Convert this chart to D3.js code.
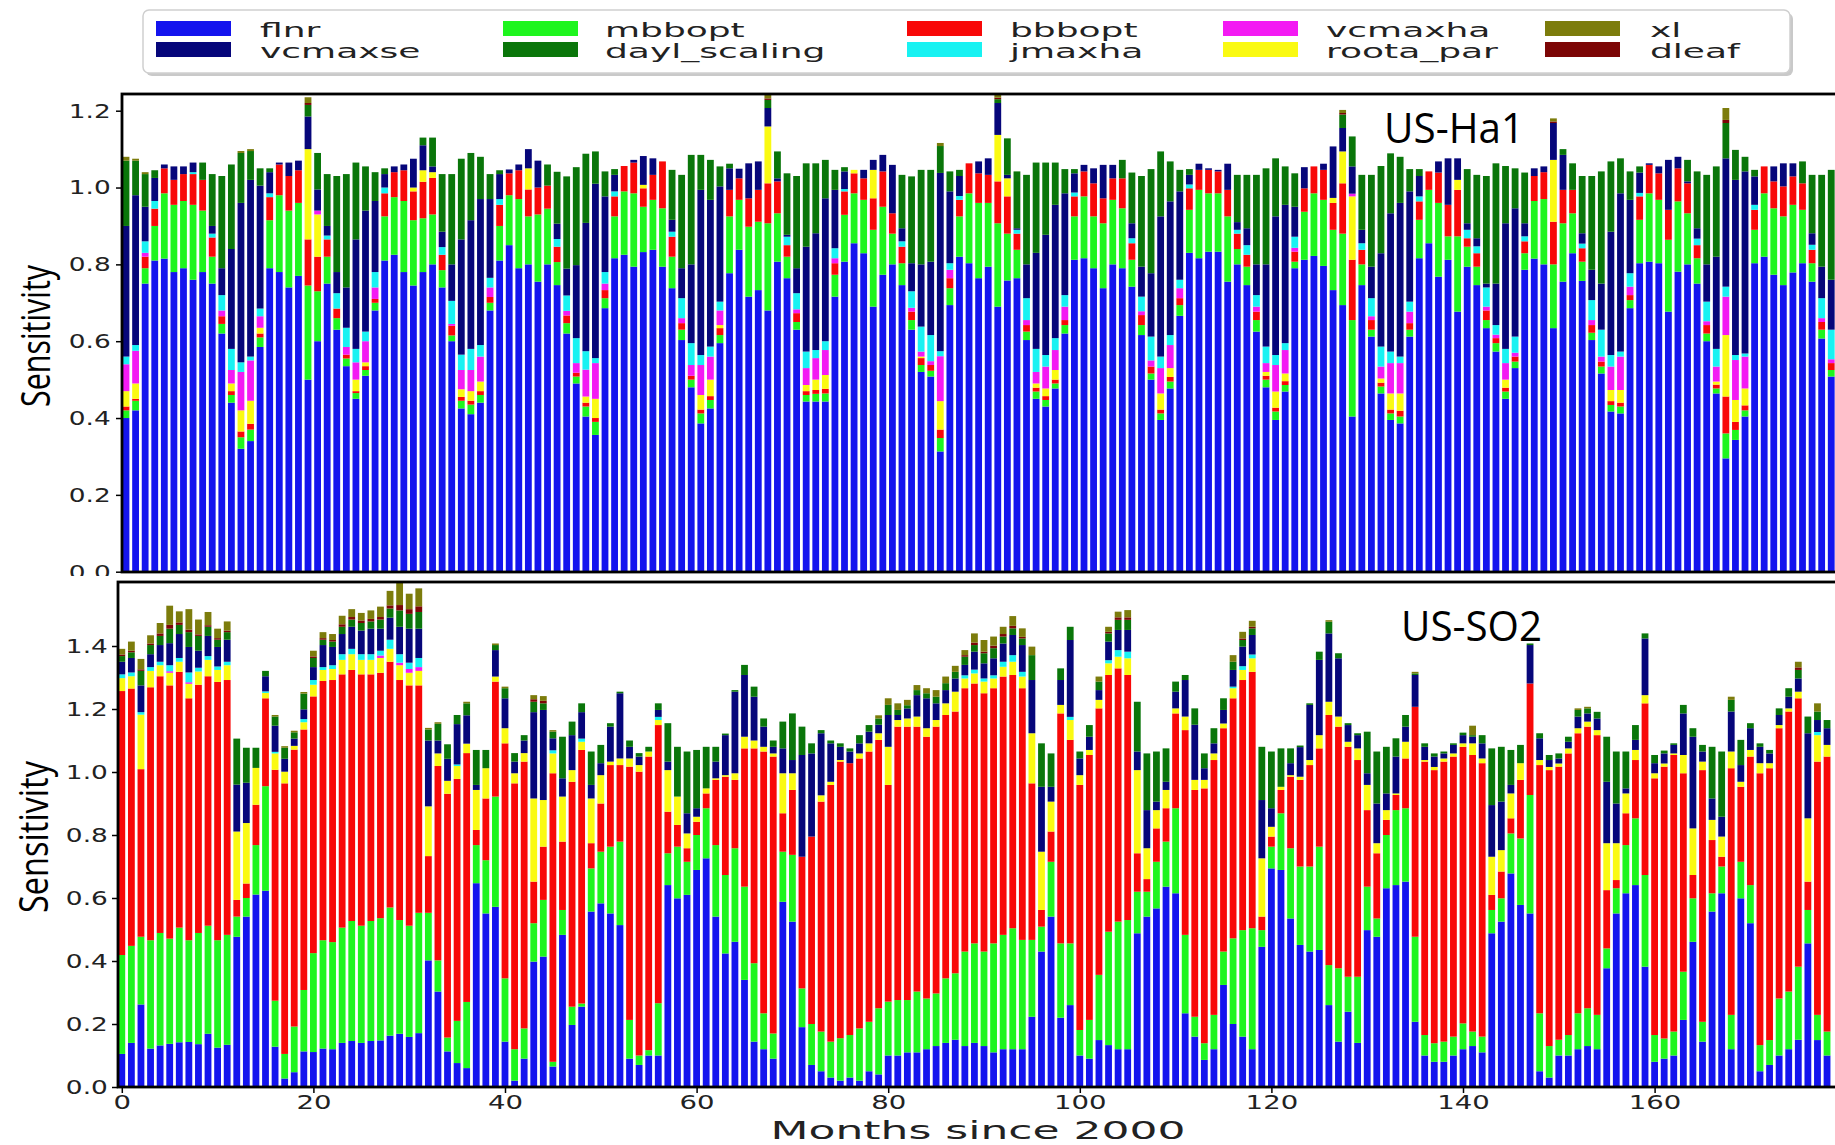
<!DOCTYPE html>
<html>
<head>
<meta charset="utf-8">
<script src="https://cdnjs.cloudflare.com/ajax/libs/d3/7.8.5/d3.min.js"></script>
<style>
  body { margin: 0; background: #fff; }
  svg { display: block; }
</style>
</head>
<body>
<svg id="chart" width="1835" height="1145"></svg>
<script>
// ---- US-Ha1 (top panel), one value per month ----
var top_flnr = [
.40,.42,.75,.81,.815,.78,.79,.76,.78,.75,
.62,.44,.32,.34,.585,.79,.78,.74,.77,.50,
.60,.75,.63,.535,.45,.51,.68,.81,.825,.78,
.745,.78,.80,.74,.60,.425,.41,.44,.68,.81,
.85,.79,.80,.755,.80,.746,.62,.49,.404,.356,
.686,.816,.825,.794,.832,.838,.794,.738,.603,.48,
.386,.425,.595,.777,.838,.716,.733,.68,.807,.764,
.63,.443,.443,.443,.716,.807,.855,.829,.69,.773,
.80,.746,.63,.52,.508,.313,.694,.82,.803,.764,
.794,.69,.758,.764,.603,.45,.43,.477,.62,.812,
.816,.79,.738,.80,.79,.742,.616,.50,.395,.477,
.666,.83,.816,.833,.833,.755,.80,.746,.625,.48,
.395,.469,.79,.812,.822,.796,.733,.694,.404,.746,
.612,.464,.395,.386,.612,.816,.855,.768,.812,.677,
.794,.746,.634,.573,.45,.53,.786,.815,.80,.634,
.755,.829,.757,.603,.516,.417,.412,.686,.803,.807,
.803,.677,.781,.80,.75,.60,.464,.295,.343,.404,
.803,.82,.773,.746,.779,.803,.755,.607,.508];

var top_mbbopt = [
.02,.025,.04,.09,.17,.175,.175,.195,.16,.07,
.025,.02,.03,.03,.025,.125,.20,.20,.19,.245,
.13,.07,.03,.02,.015,.015,.02,.115,.15,.185,
.17,.14,.13,.045,.015,.02,.025,.02,.02,.09,
.13,.18,.125,.175,.145,.06,.027,.018,.026,.034,
.026,.109,.165,.191,.118,.13,.152,.082,.027,.02,
.026,.022,.021,.148,.13,.182,.178,.227,.126,.056,
.02,.017,.02,.021,.057,.122,.13,.139,.20,.177,
.08,.057,.025,.018,.015,.035,.044,.105,.182,.196,
.166,.217,.122,.074,.022,.019,.017,.013,.022,.113,
.161,.135,.169,.168,.156,.07,.026,.016,.017,.018,
.028,.112,.178,.152,.152,.17,.04,.048,.03,.02,
.022,.017,.017,.125,.163,.172,.157,.186,.251,.054,
.018,.018,.017,.018,.018,.10,.139,.192,.061,.196,
.052,.048,.021,.022,.019,.017,.043,.15,.17,.166,
.152,.104,.05,.019,.018,.017,.018,.021,.113,.178,
.165,.187,.183,.133,.066,.02,.013,.065,.026,.016,
.087,.165,.173,.179,.176,.139,.048,.023,.017];

var top_bbbopt = [
.01,.005,.03,.045,.065,.065,.07,.08,.08,.05,
.02,.01,.015,.015,.01,.06,.08,.09,.085,.12,
.09,.045,.025,.01,.005,.01,.01,.06,.065,.08,
.075,.095,.095,.04,.025,.01,.01,.01,.015,.055,
.057,.075,.07,.07,.06,.04,.02,.01,.01,.01,
.021,.052,.066,.08,.048,.065,.122,.052,.017,.01,
.01,.01,.018,.069,.056,.074,.083,.104,.083,.03,
.023,.01,.01,.012,.03,.061,.052,.056,.082,.092,
.053,.043,.022,.018,.015,.022,.026,.043,.078,.077,
.073,.109,.097,.042,.017,.01,.01,.01,.013,.052,
.065,.086,.065,.056,.078,.043,.026,.018,.01,.012,
.018,.056,.052,.061,.057,.069,.04,.031,.022,.01,
.01,.01,.026,.061,.07,.078,.07,.131,.157,.038,
.025,.01,.01,.015,.017,.048,.048,.079,.082,.121,
.022,.035,.025,.013,.01,.013,.031,.065,.07,.111,
.087,.061,.035,.02,.013,.01,.01,.013,.061,.074,
.069,.078,.086,.078,.034,.022,.01,.096,.021,.013,
.052,.07,.07,.078,.074,.069,.035,.02,.018];

var top_roota_par = [
.04,.04,0,0,0,0,0,0,0,0,
0,.02,.055,.06,.015,0,0,0,0,.235,
.11,0,0,0,.03,.01,0,0,0,0,
.01,.03,.015,0,0,.02,.025,.025,0,0,
0,0,.055,0,0,0,0,0,.016,.05,
0,0,0,0,.009,0,0,0,0,0,
.038,.043,.008,0,0,0,0,.148,0,0,
0,.016,.027,.036,0,0,.009,0,.074,0,
0,0,0,.004,0,.074,0,0,0,0,
0,.121,.047,0,0,.011,.02,.025,0,0,
0,0,0,0,0,0,0,0,.042,.023,
0,0,0,0,0,0,0,0,0,.01,
.042,.02,0,0,0,0,.013,.083,.165,0,
0,.011,.042,.045,0,0,0,0,0,.026,
0,0,0,0,.021,0,0,0,0,.161,
0,0,0,0,0,.029,.033,0,0,0,
0,0,0,0,0,0,.008,.16,.057,.044,
0,0,0,0,0,0,0,0,0];

var top_vcmaxha = [
.07,.085,.01,0,0,0,0,0,0,0,
.015,.035,.10,.105,.03,0,0,0,0,0,
.01,0,0,.02,.045,.055,.03,0,0,0,
0,0,0,0,.005,.05,.055,.065,.025,0,
0,0,0,0,0,0,.012,.025,.07,.093,
.017,0,0,0,0,0,0,0,.013,.028,
.078,.06,.038,0,0,0,0,0,0,0,
.01,.044,.056,.065,.013,0,0,0,0,0,
0,0,.01,.013,.01,.117,.022,0,0,0,
0,0,0,0,.013,.03,.057,.052,.035,0,
0,0,0,0,0,0,.01,.016,.066,.06,
.026,0,0,0,0,0,0,0,.013,.023,
.069,.061,.01,0,0,0,0,0,.007,0,
.01,.031,.079,.079,.03,0,0,0,0,0,
0,0,.01,.009,.043,.01,0,0,0,0,
0,0,0,.013,.013,.061,.087,.022,0,0,
0,0,0,0,0,.01,.039,.10,.104,.083,
0,0,0,0,0,0,0,.01,.01];

var top_jmaxha = [
.02,.015,.03,.02,0,0,0,.005,0,.01,
.04,.055,.025,.01,.02,.01,0,0,0,0,
0,.01,.04,.05,.035,.025,.04,.015,0,0,
0,0,0,.02,.06,.04,.055,.03,.025,.015,
0,0,0,0,0,.02,.04,.065,.048,.013,
.03,.013,0,0,0,0,0,.013,.052,.057,
.026,.026,.023,0,0,0,0,0,0,.022,
.042,.043,.021,.023,.026,.006,0,0,0,0,
0,.014,.043,.065,.068,.013,.017,.01,0,0,
0,0,0,.01,.057,.06,.03,.031,.03,.01,
0,0,0,0,0,.013,.038,.062,.03,.026,
.022,.01,0,0,0,0,.01,.025,.03,.043,
.026,.018,.029,0,0,0,0,0,0,.017,
.047,.052,.03,.017,.026,.013,0,0,0,0,
.022,.018,.05,.025,.037,.042,.013,0,0,0,
0,0,.012,.052,.07,.03,.013,.035,.009,0,
0,0,0,0,.017,.051,.046,.026,.013,.008,
.013,0,0,0,0,0,.013,.052,.077];

var top_vcmaxse = [
.34,.39,.09,.06,.01,.035,.02,.025,0,.02,
.07,.26,.415,.46,.32,.055,.005,.035,.025,.085,
.055,.025,.055,.105,.285,.315,.185,.035,.015,.015,
.075,.065,.015,.04,.095,.30,.335,.38,.205,.065,
.01,.015,.05,.07,0,.04,.07,.19,.334,.454,
.197,.043,0,.007,.075,.043,0,.031,.078,.205,
.43,.382,.30,.056,.025,.091,.074,.048,.008,.005,
.065,.273,.304,.372,.152,.046,0,.022,.026,.043,
.126,.034,.073,.162,.191,.464,.187,.052,0,.031,
.043,.083,.009,.004,.088,.25,.313,.347,.265,.05,
.017,.039,.087,.035,0,.039,.078,.165,.365,.348,
.23,.025,.016,.004,.004,.068,.02,.044,.08,.214,
.361,.36,.078,.055,0,.016,.134,.061,.071,.035,
.082,.243,.36,.40,.287,.053,0,.029,.121,.056,
.017,.021,.01,.108,.327,.334,.034,.02,.015,.096,
.091,0,.027,.079,.12,.321,.412,.191,.053,.004,
.018,.13,.03,.005,.027,.097,.24,.334,.456,.474,
.074,0,.039,.06,.034,0,.03,.082,.13];

var top_dayl_scaling = [
.17,.09,.085,.02,0,0,0,0,.045,.135,
.24,.22,.13,.075,.045,.01,0,0,0,.03,
.095,.135,.25,.295,.20,.115,.075,.015,0,0,
0,.02,.075,.15,.235,.21,.175,.11,.065,.01,
0,0,0,0,.055,.135,.24,.255,.18,.084,
.065,.015,0,0,0,0,0,.13,.243,.285,
.091,.104,.052,.012,0,0,0,.021,.07,.16,
.24,.217,.182,.10,.052,.011,0,0,0,0,
0,.139,.226,.246,.239,.07,.052,.016,0,0,
0,.01,.095,.148,.233,.235,.188,.11,.063,.011,
0,0,0,0,.048,.132,.236,.271,.169,.104,
.056,.015,0,0,0,0,.123,.139,.233,.25,
.151,.10,.087,0,0,0,0,.035,.078,.143,
.239,.227,.156,.12,.058,.018,0,0,0,0,
.141,.165,.28,.313,.149,.104,.132,0,0,0,
.015,.069,.149,.244,.292,.183,.091,.074,.016,0,
0,0,0,.056,.148,.233,.235,.092,.078,.038,
.017,0,0,0,0,.057,.152,.239,.286];

var top_dleaf = [
0,0,0,0,0,0,0,0,0,0, 0,0,0,0,0,0,0,0,0,.005,
0,0,0,0,0,0,0,0,0,0, 0,0,0,0,0,0,0,0,0,0,
0,0,0,0,0,0,0,0,0,0, 0,0,0,0,0,0,0,0,0,0,
0,0,0,0,0,0,0,.004,0,0, 0,0,0,0,0,0,0,0,0,0,
0,0,0,0,0,0,0,0,0,0, 0,.004,0,0,0,0,0,0,0,0,
0,0,0,0,0,0,0,0,0,0, 0,0,0,0,0,0,0,0,0,0,
0,0,0,0,0,0,0,.004,0,0, 0,0,0,0,0,0,0,0,0,0,
0,0,0,0,0,0,0,0,0,.004, 0,0,0,0,0,0,0,0,0,0,
0,0,0,0,0,0,0,.008,0,0, 0,0,0,0,0,0,0,0,0];

var top_xl = [
.01,.005,.005,0,0,0,0,0,0,0, 0,0,.005,.005,0,0,0,0,0,.015,
0,0,0,0,0,0,0,0,0,0, 0,0,0,0,0,0,0,0,0,0,
0,0,0,0,0,0,0,0,0,0, 0,0,0,0,0,0,0,0,0,0,
0,0,0,0,0,0,0,.012,0,0, 0,0,0,0,0,0,0,0,0,0,
0,0,0,0,0,.008,0,0,0,0, 0,.01,0,0,0,0,0,0,0,0,
0,0,0,0,0,0,0,0,0,0, 0,0,0,0,0,0,0,0,0,0,
0,0,0,0,0,0,0,.008,0,0, 0,0,0,0,0,0,0,0,0,0,
0,0,0,0,0,0,0,0,0,.008, 0,0,0,0,0,0,0,0,0,0,
0,0,0,0,0,0,0,.031,0,0, 0,0,0,0,0,0,0,0,0];

// ---- US-SO2 (bottom panel) ----
var bot_flnr = [
.105,.14,.262,.122,.132,.137,.142,.143,.136,.169,
.125,.134,.477,.541,.611,.623,.128,.027,.047,.113,
.111,.122,.12,.14,.146,.14,.146,.148,.163,.169,
.159,.171,.402,.303,.113,.076,.06,.647,.551,.572,
.144,.02,.09,.398,.414,.065,.483,.197,.255,.557,
.583,.551,.514,.09,.07,.10,.10,.641,.599,.61,
.689,.726,.541,.424,.461,.34,.144,.12,.09,.588,
.525,.19,.07,.05,.03,.02,.03,.02,.05,.04,
.10,.10,.11,.11,.12,.13,.14,.15,.13,.14,
.13,.11,.12,.12,.12,.223,.43,.541,.22,.26,
.10,.09,.149,.133,.12,.12,.488,.541,.567,.636,
.615,.234,.16,.086,.12,.324,.20,.16,.12,.445,
.694,.689,.535,.451,.43,.435,.26,.144,.239,.14,
.498,.477,.631,.641,.652,.207,.10,.08,.08,.10,
.12,.13,.11,.488,.525,.678,.578,.551,.05,.03,
.10,.10,.12,.13,.12,.377,.551,.615,.641,.382,
.08,.09,.10,.213,.461,.144,.557,.615,.12,.599,
.52,.05,.07,.10,.12,.15,.456,.149,.10];

var bot_mbbopt = [
.314,.308,.215,.344,.357,.334,.364,.323,.353,.343,
.341,.349,.064,.059,.157,.332,.146,.078,.145,.195,
.314,.344,.34,.366,.381,.372,.381,.388,.407,.361,
.353,.382,.151,.099,.044,.134,.21,.121,.169,.35,
.201,.10,.096,.122,.18,.015,.079,.058,.01,.137,
.164,.212,.265,.123,.03,.017,.166,.101,.164,.105,
.111,.159,.227,.249,.297,.296,.249,.114,.08,.159,
.212,.123,.13,.126,.114,.135,.135,.166,.157,.21,
.171,.176,.166,.193,.161,.167,.205,.211,.30,.316,
.30,.346,.363,.384,.347,.244,.079,.174,.236,.196,
.081,.123,.207,.36,.405,.41,.132,.079,.148,.143,
.27,.249,.063,.053,.109,.106,.272,.338,.384,.053,
.069,.18,.223,.249,.27,.328,.127,.233,.111,.21,
.138,.058,.169,.238,.233,.27,.065,.059,.064,.06,
.082,.046,.05,.074,.074,.127,.211,.376,.184,.10,
.05,.065,.114,.12,.109,.063,.08,.153,.212,.291,
.085,.064,.076,.153,.138,.063,.058,.085,.109,.116,
.121,.083,.079,.181,.183,.232,.106,.08,.076];

var bot_bbbopt = [
.838,.817,.532,.803,.815,.804,.812,.768,.788,.792,
.82,.809,.053,.046,.128,.279,.733,.859,.879,.827,
.815,.823,.832,.804,.797,.798,.783,.779,.78,.762,
.763,.722,.18,.617,.774,.768,.79,.048,.196,.365,
.746,.844,.847,.132,.169,.916,.217,.714,.805,.08,
.153,.259,.243,.804,.901,.932,.883,.132,.069,.043,
.042,.047,.207,.312,.217,.439,.682,.831,.879,.122,
.206,.418,.595,.73,.815,.878,.863,.857,.858,.852,
.688,.868,.868,.841,.831,.847,.836,.831,.836,.825,
.82,.81,.82,.804,.799,.497,.053,.096,.73,.646,
.778,.841,.846,.815,.804,.778,.122,.04,.106,.106,
.301,.65,.72,.809,.809,.709,.762,.794,.814,.043,
.032,.074,.227,.275,.322,.312,.794,.767,.73,.688,
.243,.207,.048,.048,.158,.73,.868,.867,.889,.889,
.878,.878,.868,.048,.085,.048,.186,.354,.788,.876,
.867,.894,.889,.894,.888,.185,.026,.101,.185,.545,
.815,.863,.878,.63,.074,.799,.169,.031,.783,.238,
.408,.863,.863,.858,.889,.852,.09,.804,.873];

var bot_roota_par = [
.041,.039,.173,.052,.035,.04,.032,.046,.042,.052,
.038,.047,.217,.192,.117,.017,.052,.037,.012,.023,
.037,.035,.035,.046,.05,.046,.046,.047,.041,.047,
.04,.046,.158,.04,.041,.041,.03,.127,.096,.016,
.048,.032,.027,.264,.148,.063,.143,.037,.026,.142,
.09,.011,.021,.026,.021,.016,.016,.132,.09,.047,
.016,.016,.005,.005,.021,.037,.025,.015,.01,.127,
.053,0,0,.02,.01,.005,0,.016,.026,.021,
.121,.021,.026,.032,.027,.021,.037,.063,.031,.032,
.037,.031,.031,.042,.037,.159,.185,.095,.027,.063,
.031,.016,.027,.037,.037,.053,.264,.098,.058,.058,
.016,.043,.032,.027,.021,.015,.032,.032,.043,.185,
.031,.01,.005,.01,.016,.042,.042,.032,.016,.037,
.08,.032,.031,.005,.053,0,.005,.01,.01,.01,
.011,.037,.015,.121,.068,.079,.053,0,.016,.01,
.01,.016,.016,.016,.016,.149,.117,.063,.032,.026,
.016,.01,.005,.058,.148,.027,.064,.064,.053,.016,
.021,.032,.016,.01,.01,.021,.201,.084,.037];

var bot_vcmaxha = [
0,0,0,0,0,.005,0,.005,0,0, 0,0,0,0,0,0,0,0,0,0,
0,0,0,0,0,0,0,.008,0,.008, .012,.012,0,0,0,0,0,0,0,0,
0,0,0,0,0,0,0,0,0,0, 0,0,0,0,0,0,0,0,0,0,
0,0,0,0,0,0,0,0,0,0, 0,0,0,0,0,0,0,0,0,0,
0,0,0,0,0,0,0,0,0,0, 0,0,0,0,0,0,0,0,0,0,
0,0,0,0,0,0,0,0,0,0, 0,0,0,0,0,0,0,0,0,0,
0,0,0,0,0,0,0,0,0,0, 0,0,0,0,0,0,0,0,0,0,
0,0,0,0,0,0,0,0,0,0, 0,0,0,0,0,0,0,0,0,0,
0,0,0,0,0,0,0,0,0,0, 0,0,0,0,0,0,0,0,0];

var bot_jmaxha = [
.012,.012,.008,.012,.011,.019,.012,.031,.012,.012,
.011,.011,0,0,0,.005,.005,0,0,.01,
.015,.009,.012,.018,.017,.018,.018,.015,.029,.027,
.02,.029,0,0,0,.005,0,0,0,0,
0,0,0,0,0,.01,0,0,.01,0,
0,0,0,0,0,0,.01,0,0,0,
0,0,0,0,0,0,0,0,0,0, 0,0,0,0,0,0,0,0,0,0,
0,0,0,0,0,0,0,0,.01,.012,
.01,.01,.016,.021,.015,0,0,0,0,.01,
0,0,0,.01,.021,.021,0,0,0,0,
0,0,0,0,0,0,.005,.012,.012,0,
0,0,0,0,0,0,0,0,0,0, 0,0,0,0,0,0,0,0,0,0,
0,0,0,0,0,0,0,0,0,0, 0,0,0,0,0,0,0,0,0,0,
0,0,0,0,0,0,0,0,0,0, 0,0,0,0,0,0,0,.01,0];

var bot_vcmaxse = [
.04,.046,.085,.041,.053,.07,.076,.081,.054,.064,
.062,.07,.149,.128,0,.048,.083,.041,.023,.031,
.041,.07,.058,.064,.07,.075,.081,.07,.07,.087,
.108,.093,.209,.041,.07,.128,.09,.016,0,.084,
.095,.037,.04,.274,.286,.038,.058,.111,.084,.043,
.038,.111,.207,.037,.027,0,.022,.027,0,.064,
.027,0,.053,.127,.259,.196,.139,.064,.021,.079,
.042,.323,.264,.197,.122,.042,.037,.032,.037,.027,
.101,.016,.032,.068,.095,.053,.042,.042,.033,.057,
.048,.054,.058,.064,.085,.169,.206,.047,.079,.244,
.053,.042,.031,.059,.064,.069,.059,.121,.027,.026,
.053,.116,.175,.037,.032,.043,.053,.062,.062,.185,
.059,0,.038,.094,.175,.239,.217,.185,.053,.042,
.037,.126,.053,.117,.048,.101,.042,.033,.016,.027,
.026,.021,.048,.164,.154,.027,0,.122,.069,.022,
.016,.021,.037,.026,.037,.195,.126,.016,.032,.18,
.032,.032,.027,.132,.291,.032,.068,.063,.127,.053,
.069,.052,.031,.032,.037,.042,.27,.038,.053];

var bot_dayl_scaling = [
.018,.018,.046,.029,.029,.046,.029,.047,.047,.029,
.023,.024,.146,.111,.064,.017,.029,.035,.02,.05,
.029,.017,.017,.023,.023,.024,.023,.029,.029,.052,
.047,.053,.035,.053,.046,.029,.038,.111,.058,.016,
.032,.027,.017,.033,.021,.021,.132,.043,.028,.106,
.058,.011,.005,.02,.011,.015,.021,.122,.158,.196,
.185,.132,.047,.005,.005,.032,.032,.026,.02,.085,
.148,.09,.032,.01,.009,.011,.01,.026,.021,.02,
.032,.016,.01,.016,.016,.021,.022,.021,.026,.021,
.032,.032,.022,.021,.021,.079,.138,.106,.037,.042,
.022,.037,.027,.026,.032,.032,.158,.18,.159,.106,
.032,.016,.052,.047,.048,.037,.026,.021,.021,.169,
.18,.122,.047,.005,.005,.026,.037,.016,.006,.006,
.132,.165,.148,.058,.037,.005,.011,.01,.006,.005,
.008,.005,.026,.18,.174,.111,.058,.005,.016,.016,
.016,.016,.021,.016,.021,.143,.165,.117,.047,.016,
.026,.009,.005,.027,.027,.021,.164,.207,.037,.08,
.016,.011,.011,.021,.027,.027,.053,.027,.026];

var bot_dleaf = [
.005,.005,.005,.005,.008,.012,.008,.008,.005,.005,
.005,.005,0,0,0,0,0,0,0,0,
.005,.005,.005,.008,.008,.008,.008,.008,.01,.017,
.015,.018,0,0,0,0,0,0,0,0,
0,0,0,.008,.008,0,0,0,0,0,
0,0,0,0,0,0,0,0,0,0, 0,0,0,0,0,0,0,0,0,0,
0,0,0,0,0,0,0,0,0,0,
0,0,0,0,0,0,0,0,.005,.008,
.005,.008,.008,.008,.005,0,0,0,0,0,
0,0,0,.005,.008,.008,0,0,0,0,
0,0,0,0,0,0,0,.005,.005,0,
0,0,0,0,0,0,0,0,0,0, 0,0,0,0,0,0,0,0,0,0,
0,0,0,0,0,0,0,0,0,0, 0,0,0,0,0,0,0,0,0,0,
0,0,0,0,0,0,0,0,0,0, 0,0,0,0,0,.008,0,0,0];

var bot_xl = [
.018,.029,.033,.026,.033,.061,.035,.065,.047,.042,
.03,.029,0,0,0,0,.005,.005,.005,.005,
.018,.019,.019,.027,.025,.024,.027,.033,.046,.07,
.049,.057,.005,.005,0,0,.005,0,0,.005,
.005,0,0,.013,.015,.005,0,0,0,0,
0,0,0,0,0,0,0,0,0,0, 0,0,0,0,0,0,0,0,0,0,
0,0,0,0,0,0,0,0,0,.01,
.021,.021,.017,.016,.016,.021,.021,.019,.016,.029,
.037,.029,.023,.031,.027,.027,0,0,0,0,
0,0,.016,.016,.018,.023,0,0,0,0,
0,0,0,0,0,0,.021,.021,.019,0,
0,0,0,0,0,0,.005,0,0,0,
0,0,0,0,0,.005,0,0,0,0,
0,.03,0,0,0,0,0,0,0,0,
0,0,.005,.005,0,0,0,0,0,0,
0,0,0,0,0,0,0,0,.01,0,
0,0,0,0,0,.018,0,.026,0];

var xTickValues = [0, 20, 40, 60, 80, 100, 120, 140, 160];
var yTicksTop = [0, 0.2, 0.4, 0.6, 0.8, 1.0, 1.2];
var yTicksBot = [0, 0.2, 0.4, 0.6, 0.8, 1.0, 1.2, 1.4];

// bottom-to-top stacking order seen in the bars
var stackOrder = ["flnr","mbbopt","bbbopt","roota_par","vcmaxha","jmaxha","vcmaxse","dayl_scaling","dleaf","xl"];
// legend layout: five columns of two
var legendCols = [["flnr","vcmaxse"],["mbbopt","dayl_scaling"],["bbbopt","jmaxha"],["vcmaxha","roota_par"],["xl","dleaf"]];

var colors = {
  flnr: "#1414ee", vcmaxse: "#06067a", mbbopt: "#1ef51e", dayl_scaling: "#0a760a",
  bbbopt: "#f80808", jmaxha: "#18f2f2", vcmaxha: "#f31af3", roota_par: "#fafa12",
  xl: "#7c7c0c", dleaf: "#7c0606"
};

var topSrc = {flnr: top_flnr, mbbopt: top_mbbopt, bbbopt: top_bbbopt, roota_par: top_roota_par,
  vcmaxha: top_vcmaxha, jmaxha: top_jmaxha, vcmaxse: top_vcmaxse, dayl_scaling: top_dayl_scaling,
  dleaf: top_dleaf, xl: top_xl};
var botSrc = {flnr: bot_flnr, mbbopt: bot_mbbopt, bbbopt: bot_bbbopt, roota_par: bot_roota_par,
  vcmaxha: bot_vcmaxha, jmaxha: bot_jmaxha, vcmaxse: bot_vcmaxse, dayl_scaling: bot_dayl_scaling,
  dleaf: bot_dleaf, xl: bot_xl};

function buildRows(src) {
  return d3.range(src.flnr.length).map(function(i) {
    var r = {month: i};
    stackOrder.forEach(function(k) { r[k] = src[k][i] || 0; });
    return r;
  });
}

var svg = d3.select("#chart");
var barW = 6.8;

var xTop = d3.scaleLinear().domain([0, 160]).range([126, 126 + 160 * 9.58]);
var yTop = d3.scaleLinear().domain([0, 1.2]).range([571.7, 110.7]);
var xBot = d3.scaleLinear().domain([0, 160]).range([121.8, 121.8 + 160 * 9.58]);
var yBot = d3.scaleLinear().domain([0, 1.4]).range([1087, 646]);

var defs = svg.append("defs");
defs.append("clipPath").attr("id", "clipTop").append("rect")
  .attr("x", 122).attr("y", 94).attr("width", 1713).attr("height", 478);
defs.append("clipPath").attr("id", "clipBot").append("rect")
  .attr("x", 118).attr("y", 582).attr("width", 1717).attr("height", 505);

function drawBars(rows, x, y, clipId) {
  var layers = d3.stack().keys(stackOrder)(rows);
  svg.append("g").attr("clip-path", "url(#" + clipId + ")")
    .selectAll("g").data(layers).enter().append("g")
      .attr("fill", function(d) { return colors[d.key]; })
    .selectAll("rect").data(function(d) { return d; }).enter().append("rect")
      .attr("x", function(d) { return x(d.data.month) - barW / 2; })
      .attr("y", function(d) { return y(d[1]); })
      .attr("width", barW)
      .attr("height", function(d) { return Math.max(0, y(d[0]) - y(d[1])); });
}

function yAxis(y, ticks, left, pad) {
  var g = svg.append("g")
    .attr("transform", "translate(" + left + ",0)")
    .call(d3.axisLeft(y).tickValues(ticks).tickFormat(d3.format(".1f")).tickSize(6).tickPadding(pad));
  g.select(".domain").remove();
  g.selectAll(".tick line").attr("stroke", "#000").attr("stroke-width", 1.5);
  g.selectAll(".tick text")
    .attr("font-family", "DejaVu Sans").attr("font-size", 20).attr("fill", "#222")
    .attr("transform", "scale(1.32,1)");
}

// ---------- top panel (US-Ha1) ----------
drawBars(buildRows(topSrc), xTop, yTop, "clipTop");
yAxis(yTop, yTicksTop, 122, 2.5);
svg.append("rect").attr("x", 122).attr("y", 94).attr("width", 1740).attr("height", 478)
  .attr("fill", "none").attr("stroke", "#000").attr("stroke-width", 2.8);
svg.append("text").attr("x", 1384).attr("y", 143)
  .attr("font-family", "Open Sans").attr("font-size", 42)
  .attr("textLength", 140).attr("lengthAdjust", "spacingAndGlyphs")
  .text("US-Ha1");
svg.append("text")
  .attr("transform", "translate(50,336) rotate(-90)")
  .attr("text-anchor", "middle")
  .attr("font-family", "Open Sans").attr("font-size", 40)
  .attr("textLength", 142).attr("lengthAdjust", "spacingAndGlyphs")
  .text("Sensitivity");

// second figure is pasted over the bottom of the first
svg.append("rect").attr("x", 0).attr("y", 576).attr("width", 1835).attr("height", 569).attr("fill", "#fff");

// ---------- bottom panel (US-SO2) ----------
drawBars(buildRows(botSrc), xBot, yBot, "clipBot");
yAxis(yBot, yTicksBot, 118, 1.7);

var xg = svg.append("g")
  .attr("transform", "translate(0,1087)")
  .call(d3.axisBottom(xBot).tickValues(xTickValues).tickSize(6).tickPadding(3));
xg.select(".domain").remove();
xg.selectAll(".tick line").attr("stroke", "#000").attr("stroke-width", 1.5);
xg.selectAll(".tick text")
  .attr("font-family", "DejaVu Sans").attr("font-size", 19).attr("fill", "#222")
  .attr("transform", "scale(1.45,1)");

svg.append("rect").attr("x", 118).attr("y", 582).attr("width", 1740).attr("height", 505)
  .attr("fill", "none").attr("stroke", "#000").attr("stroke-width", 2.8);

svg.append("text").attr("x", 1401).attr("y", 641)
  .attr("font-family", "Open Sans").attr("font-size", 42)
  .attr("textLength", 141).attr("lengthAdjust", "spacingAndGlyphs")
  .text("US-SO2");
svg.append("text")
  .attr("transform", "translate(48,837) rotate(-90)")
  .attr("text-anchor", "middle")
  .attr("font-family", "Open Sans").attr("font-size", 40)
  .attr("textLength", 152).attr("lengthAdjust", "spacingAndGlyphs")
  .text("Sensitivity");

svg.append("text")
  .attr("transform", "translate(978,1139) scale(1.76,1)")
  .attr("text-anchor", "middle")
  .attr("font-family", "DejaVu Sans").attr("font-size", 25).attr("fill", "#222")
  .text("Months since 2000");

// ---------- legend ----------
var lg = svg.append("g");
lg.append("rect").attr("x", 146).attr("y", 13).attr("width", 1647).attr("height", 63).attr("rx", 6)
  .attr("fill", "#c9c9c9");
lg.append("rect").attr("x", 143).attr("y", 10).attr("width", 1647).attr("height", 63).attr("rx", 6)
  .attr("fill", "#fff").attr("stroke", "#cfcfcf").attr("stroke-width", 1.5);

var swatchX = [156, 503, 907, 1223, 1545];
var labelX = [260, 605, 1010, 1326, 1650];
var rowSwatchY = [21, 42];
var rowBase = [37, 58];

legendCols.forEach(function(col, ci) {
  col.forEach(function(key, ri) {
    lg.append("rect").attr("x", swatchX[ci]).attr("y", rowSwatchY[ri])
      .attr("width", 75).attr("height", 15).attr("fill", colors[key]);
    lg.append("text")
      .attr("transform", "translate(" + labelX[ci] + "," + rowBase[ri] + ") scale(1.8,1)")
      .attr("font-family", "DejaVu Sans").attr("font-size", 20).attr("fill", "#222")
      .text(key);
  });
});
</script>
